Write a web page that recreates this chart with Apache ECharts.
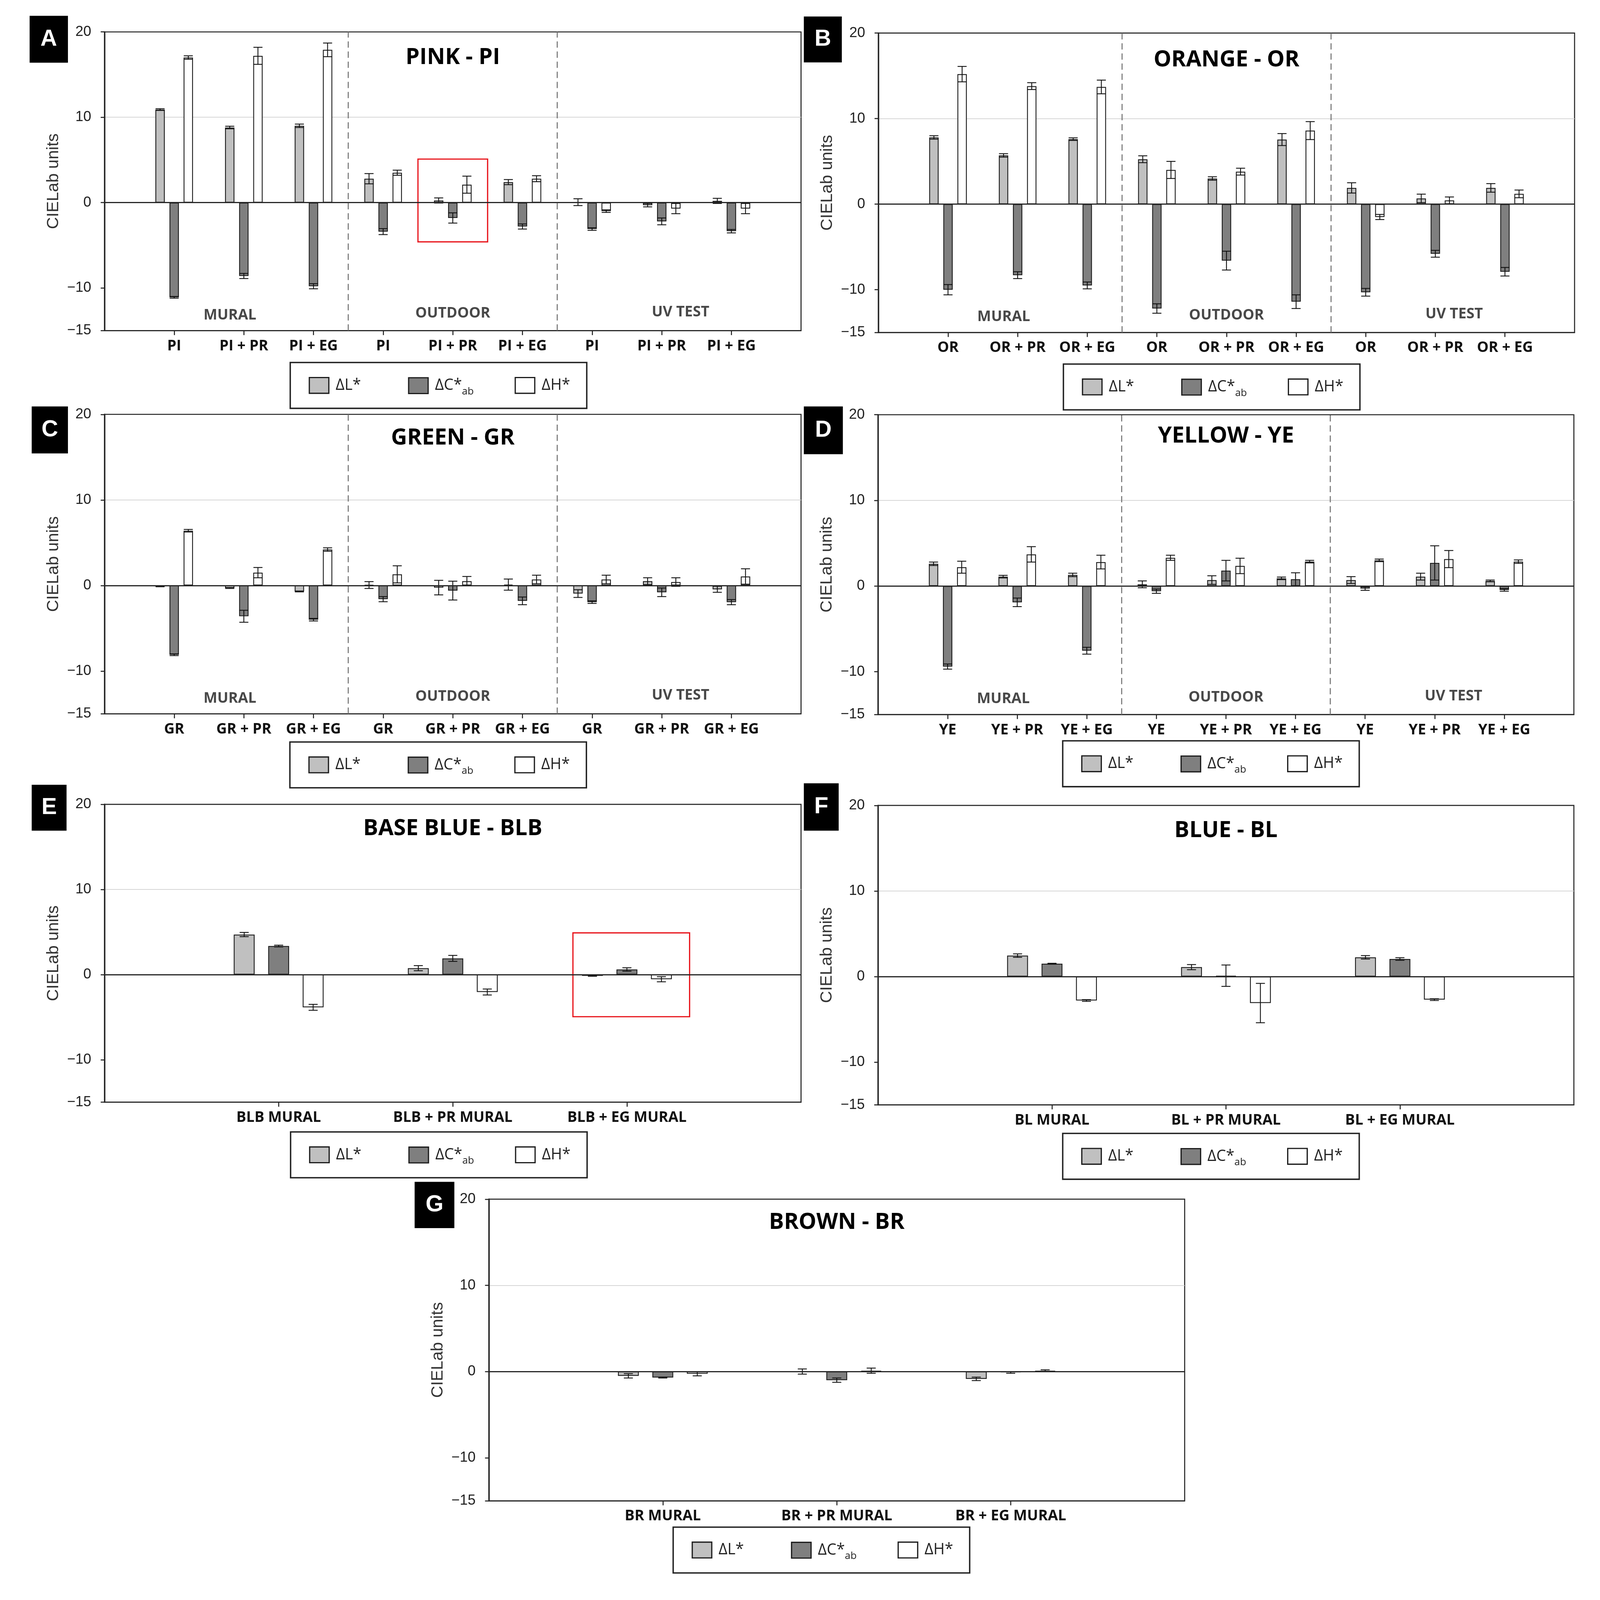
<!DOCTYPE html>
<html>
<head>
<meta charset="utf-8">
<script src="https://cdn.jsdelivr.net/npm/echarts@6.0.0/dist/echarts.min.js"></script>
<style>html,body{margin:0;padding:0;background:#fff;overflow:hidden}#c{width:100vw;height:100vh}</style>
</head>
<body>
<div id="c"></div>
<script>
// ---------------- data ----------------
const seriesNames = ['ΔL*', 'ΔC*ab', 'ΔH*'];
const groupNames = ['MURAL', 'OUTDOOR', 'UV TEST'];
const dividerPos = [3.5, 6.5];
const yLabelValues = [20, 10, 0, -10, -15];

// A - PINK
const catsPI = ['PI', 'PI + PR', 'PI + EG', 'PI', 'PI + PR', 'PI + EG', 'PI', 'PI + PR', 'PI + EG'];
const dL_PI = [10.9, 8.8, 9.0, 2.8, 0.25, 2.4, 0.05, -0.3, 0.2];
const eL_PI = [0.1, 0.15, 0.2, 0.6, 0.3, 0.3, 0.4, 0.2, 0.3];
const dC_PI = [-11.1, -8.6, -9.8, -3.4, -1.8, -2.8, -3.1, -2.2, -3.35];
const eC_PI = [0.1, 0.3, 0.3, 0.35, 0.6, 0.3, 0.15, 0.4, 0.2];
const dH_PI = [17.0, 17.2, 17.9, 3.5, 2.1, 2.8, -1.0, -0.7, -0.7];
const eH_PI = [0.2, 1.0, 0.8, 0.3, 1.0, 0.35, 0.15, 0.6, 0.6];

// B - ORANGE
const catsOR = ['OR', 'OR + PR', 'OR + EG', 'OR', 'OR + PR', 'OR + EG', 'OR', 'OR + PR', 'OR + EG'];
const dL_OR = [7.8, 5.7, 7.6, 5.25, 3.0, 7.55, 1.9, 0.67, 1.9];
const eL_OR = [0.2, 0.2, 0.15, 0.4, 0.2, 0.7, 0.6, 0.5, 0.5];
const dC_OR = [-10.0, -8.3, -9.5, -12.2, -6.6, -11.4, -10.3, -5.8, -7.9];
const eC_OR = [0.6, 0.4, 0.4, 0.55, 1.1, 0.8, 0.45, 0.4, 0.5];
const dH_OR = [15.2, 13.8, 13.7, 4.0, 3.8, 8.6, -1.5, 0.44, 1.2];
const eH_OR = [0.9, 0.4, 0.8, 1.0, 0.4, 1.05, 0.3, 0.4, 0.45];

// C - GREEN
const catsGR = ['GR', 'GR + PR', 'GR + EG', 'GR', 'GR + PR', 'GR + EG', 'GR', 'GR + PR', 'GR + EG'];
const dL_GR = [-0.1, -0.3, -0.7, 0.05, -0.25, 0.1, -0.95, 0.5, -0.45];
const eL_GR = [0.05, 0.05, 0.05, 0.4, 0.85, 0.65, 0.45, 0.4, 0.35];
const dC_GR = [-8.1, -3.6, -4.0, -1.6, -0.6, -1.8, -1.95, -0.8, -1.95];
const eC_GR = [0.1, 0.7, 0.15, 0.3, 1.1, 0.45, 0.15, 0.5, 0.3];
const dH_GR = [6.4, 1.5, 4.2, 1.3, 0.5, 0.7, 0.7, 0.4, 1.05];
const eH_GR = [0.15, 0.6, 0.2, 1.0, 0.55, 0.5, 0.5, 0.5, 0.9];

// D - YELLOW
const catsYE = ['YE', 'YE + PR', 'YE + EG', 'YE', 'YE + PR', 'YE + EG', 'YE', 'YE + PR', 'YE + EG'];
const dL_YE = [2.6, 1.1, 1.3, 0.2, 0.7, 0.9, 0.7, 1.1, 0.6];
const eL_YE = [0.2, 0.15, 0.2, 0.4, 0.5, 0.15, 0.4, 0.4, 0.1];
const dC_YE = [-9.4, -1.9, -7.55, -0.6, 1.8, 0.8, -0.3, 2.7, -0.45];
const eC_YE = [0.3, 0.5, 0.4, 0.25, 1.2, 0.75, 0.2, 2.0, 0.15];
const dH_YE = [2.2, 3.7, 2.8, 3.3, 2.35, 2.85, 3.0, 3.15, 2.85];
const eH_YE = [0.7, 0.9, 0.8, 0.3, 0.9, 0.15, 0.15, 1.0, 0.2];

// E - BASE BLUE
const catsBLB = ['BLB MURAL', 'BLB + PR MURAL', 'BLB + EG MURAL'];
const dL_BLB = [4.7, 0.75, -0.15];
const eL_BLB = [0.25, 0.3, 0.05];
const dC_BLB = [3.35, 1.9, 0.6];
const eC_BLB = [0.1, 0.35, 0.2];
const dH_BLB = [-3.85, -2.05, -0.55];
const eH_BLB = [0.35, 0.35, 0.3];

// F - BLUE
const catsBL = ['BL MURAL', 'BL + PR MURAL', 'BL + EG MURAL'];
const dL_BL = [2.45, 1.1, 2.25];
const eL_BL = [0.2, 0.3, 0.2];
const dC_BL = [1.5, 0.1, 2.05];
const eC_BL = [0.05, 1.25, 0.15];
const dH_BL = [-2.8, -3.1, -2.7];
const eH_BL = [0.1, 2.3, 0.1];

// G - BROWN
const catsBR = ['BR MURAL', 'BR + PR MURAL', 'BR + EG MURAL'];
const dL_BR = [-0.5, 0.0, -0.85];
const eL_BR = [0.25, 0.3, 0.2];
const dC_BR = [-0.7, -1.0, -0.1];
const eC_BR = [0.05, 0.25, 0.1];
const dH_BR = [-0.25, 0.1, 0.1];
const eH_BR = [0.25, 0.3, 0.1];

// ---------------- layout (reference pixel frame 4592 x 4259) ----------------
const REF_W = 4592, REF_H = 4259;
const W = window.innerWidth || REF_W;
const H = window.innerHeight || REF_H;
const sx = W / REF_W, sy = H / REF_H, fs = Math.min(sx, sy);
const X = v => v * sx, Y = v => v * sy, F = v => v * fs;

const panels = [
  {key: 'A', title: 'PINK - PI', cats: catsPI, vals: [dL_PI, dC_PI, dH_PI], errs: [eL_PI, eC_PI, eH_PI],
   grid: [300, 85, 1999, 795], box: [85, 42, 110, 125], legend: [833, 965], titleY: 158, grouped: true,
   highlight: [[4.5, 5.1], [5.5, -4.6]]},
  {key: 'B', title: 'ORANGE - OR', cats: catsOR, vals: [dL_OR, dC_OR, dH_OR], errs: [eL_OR, eC_OR, eH_OR],
   grid: [2521, 88, 1998, 797], box: [2307, 44, 109, 122], legend: [3052, 969], titleY: 165, grouped: true},
  {key: 'C', title: 'GREEN - GR', cats: catsGR, vals: [dL_GR, dC_GR, dH_GR], errs: [eL_GR, eC_GR, eH_GR],
   grid: [300, 1103, 1999, 797], box: [91, 1082, 104, 125], legend: [832, 1975], titleY: 1171, grouped: true},
  {key: 'D', title: 'YELLOW - YE', cats: catsYE, vals: [dL_YE, dC_YE, dH_YE], errs: [eL_YE, eC_YE, eH_YE],
   grid: [2520, 1104, 1997, 798], box: [2307, 1082, 112, 127], legend: [3050, 1972], titleY: 1166, grouped: true},
  {key: 'E', title: 'BASE BLUE - BLB', cats: catsBLB, vals: [dL_BLB, dC_BLB, dH_BLB], errs: [eL_BLB, eC_BLB, eH_BLB],
   grid: [300, 2141, 1999, 793], box: [91, 2089, 100, 122], legend: [834, 3013], titleY: 2211, grouped: false,
   highlight: [[2.69, 4.9], [3.36, -4.95]]},
  {key: 'F', title: 'BLUE - BL', cats: catsBL, vals: [dL_BL, dC_BL, dH_BL], errs: [eL_BL, eC_BL, eH_BL],
   grid: [2520, 2144, 1997, 797], box: [2307, 2085, 100, 126], legend: [3050, 3017], titleY: 2216, grouped: false},
  {key: 'G', title: 'BROWN - BR', cats: catsBR, vals: [dL_BR, dC_BR, dH_BR], errs: [eL_BR, eC_BR, eH_BR],
   grid: [1403, 3192, 1997, 803], box: [1190, 3146, 114, 123], legend: [1932, 4065], titleY: 3259, grouped: false}
];

const fills = ['#c0c0c0', '#7f7f7f', '#ffffff'];
const edge = '#1c1c1c';
const legendOffsets = [53, 338, 644];
const groupX = [1.8, 5.0, 8.27];
const groupY = [-13.2, -13.0, -12.85];
const HUM = '"Open Sans", "DejaVu Sans", sans-serif';
const ARIAL = '"Liberation Sans", Arial, sans-serif';

function makeErr(pitchFrac) {
  return function (params, api) {
    const x = api.value(0), k = api.value(1), lo = api.value(2), hi = api.value(3);
    const unit = api.size([1, 0])[0];
    const cx = api.coord([x, 0])[0] + (k - 1) * unit * pitchFrac;
    const y1 = api.coord([x, lo])[1], y2 = api.coord([x, hi])[1];
    const cap = F(13);
    const st = {stroke: '#111', lineWidth: F(2.5)};
    return {type: 'group', children: [
      {type: 'line', shape: {x1: cx, y1: y1, x2: cx, y2: y2}, style: st},
      {type: 'line', shape: {x1: cx - cap, y1: y1, x2: cx + cap, y2: y1}, style: st},
      {type: 'line', shape: {x1: cx - cap, y1: y2, x2: cx + cap, y2: y2}, style: st}
    ]};
  };
}

const option = {
  animation: false,
  backgroundColor: '#ffffff',
  textStyle: {fontFamily: HUM},
  grid: [], xAxis: [], yAxis: [], series: [], legend: [], title: [], graphic: []
};

panels.forEach((p, i) => {
  const [gl, gt, gw, gh] = p.grid;
  const n = p.cats.length;
  const ticks = p.cats.map((c, k) => k + 1);
  const barW = p.grouped ? 0.135 : 0.12;
  const barG = p.grouped ? 0.5 : 0.65;

  option.grid.push({left: X(gl), top: Y(gt), width: X(gw), height: Y(gh), show: true,
    borderColor: '#262626', borderWidth: F(3), backgroundColor: '#ffffff'});

  option.xAxis.push({
    gridIndex: i, type: 'value', min: 0, max: n + 1, interval: 1,
    axisLine: {show: true, onZero: false, lineStyle: {color: '#262626', width: F(3)}},
    axisTick: {show: true, customValues: ticks, length: Y(12), lineStyle: {color: '#262626', width: F(3)}},
    axisLabel: {show: true, customValues: ticks, margin: Y(22),
      formatter: v => p.cats[Math.round(v) - 1] || '',
      fontFamily: HUM, fontWeight: 'bold', fontSize: F(42), color: '#111'},
    splitLine: {show: false}
  });

  option.yAxis.push({
    gridIndex: i, type: 'value', min: -15, max: 20, interval: 5,
    name: 'CIELab units', nameLocation: 'middle', nameGap: X(122), nameRotate: 90,
    nameTextStyle: {fontFamily: ARIAL, fontSize: F(48), color: '#333'},
    axisLine: {show: true, lineStyle: {color: '#262626', width: F(4)}},
    axisTick: {show: true, customValues: yLabelValues, length: X(11), lineStyle: {color: '#262626', width: F(3)}},
    axisLabel: {show: true, customValues: yLabelValues, margin: X(38),
      formatter: v => yLabelValues.indexOf(v) < 0 ? '' : (v < 0 ? '\u2212' + Math.abs(v) : String(v)),
      fontFamily: ARIAL, fontSize: F(41), color: '#222'},
    splitLine: {show: true, lineStyle: {width: F(2.5),
      color: ['rgba(0,0,0,0)', '#d6d6d6', 'rgba(0,0,0,0)', 'rgba(0,0,0,0)', 'rgba(0,0,0,0)', '#d6d6d6', 'rgba(0,0,0,0)', 'rgba(0,0,0,0)']}}
  });

  // bars
  p.vals.forEach((arr, si) => {
    const s = {
      name: seriesNames[si], type: 'bar', xAxisIndex: i, yAxisIndex: i,
      data: arr.map((v, j) => [j + 1, v]),
      barWidth: (barW * 100) + '%', barGap: (barG * 100) + '%',
      itemStyle: {color: fills[si], borderColor: edge, borderWidth: F(2.5)},
      emphasis: {disabled: true}, silent: true, z: 2
    };
    if (si === 0) {
      s.markLine = {silent: true, symbol: ['none', 'none'], label: {show: false},
        lineStyle: {color: '#262626', width: F(3.5), type: 'solid'}, emphasis: {disabled: true},
        data: [{yAxis: 0}]};
    }
    if (si === 2 && p.highlight) {
      s.markArea = {silent: true, itemStyle: {color: 'rgba(0,0,0,0)', borderColor: '#e8141b', borderWidth: F(3.5)},
        emphasis: {disabled: true},
        data: [[{xAxis: p.highlight[0][0], yAxis: p.highlight[0][1]}, {xAxis: p.highlight[1][0], yAxis: p.highlight[1][1]}]]};
    }
    option.series.push(s);
  });

  // error bars
  const errData = [];
  p.vals.forEach((arr, si) => {
    arr.forEach((v, j) => {
      const e = p.errs[si][j];
      errData.push([j + 1, si, v - e, v + e]);
    });
  });
  option.series.push({
    type: 'custom', xAxisIndex: i, yAxisIndex: i, silent: true, z: 4,
    renderItem: makeErr(barW * (1 + barG)),
    encode: {x: 0, y: [2, 3]},
    data: errData
  });

  // group labels + dividers
  if (p.grouped) {
    option.series.push({
      type: 'scatter', xAxisIndex: i, yAxisIndex: i, silent: true, z: 3,
      symbolSize: 1, itemStyle: {color: 'rgba(0,0,0,0)'},
      data: groupNames.map((g, k) => ({name: g, value: [groupX[k], groupY[k]]})),
      label: {show: true, position: 'inside', formatter: '{b}',
        fontFamily: HUM, fontSize: F(42), fontWeight: 'bold', color: '#1a1a1a'},
      markLine: {silent: true, symbol: ['none', 'none'], label: {show: false}, emphasis: {disabled: true},
        lineStyle: {color: '#777777', width: F(3), type: [F(18), F(11)]},
        data: dividerPos.map(x => ({xAxis: x}))}
    });
  }

  // title
  option.title.push({text: p.title, left: X(gl + gw / 2), top: Y(p.titleY) - F(37), textAlign: 'center', padding: 0,
    textStyle: {fontFamily: HUM, fontWeight: 'bold', fontSize: F(64), color: '#000'}});

  // legends (one per item)
  const [lx, ly] = p.legend;
  seriesNames.forEach((nm, si) => {
    option.legend.push({
      left: X(lx + legendOffsets[si]), top: Y(ly + 61) - F(31), padding: 0, orient: 'horizontal',
      itemWidth: X(56), itemHeight: Y(42), selectedMode: false,
      data: [{name: nm, icon: 'rect'}],
      itemStyle: {borderColor: edge, borderWidth: F(3.5)},
      formatter: name => name === 'ΔC*ab' ? '{m|ΔC*}{s|ab}' : '{m|' + name + '}',
      textStyle: {fontFamily: HUM, fontSize: F(44), color: '#222', lineHeight: F(62), padding: [0, 0, 0, X(14)],
        rich: {
          m: {fontFamily: HUM, fontSize: F(44), color: '#222', lineHeight: F(62)},
          s: {fontFamily: HUM, fontSize: F(29), color: '#222', lineHeight: F(28), padding: [F(34), 0, 0, 0]}
        }}
    });
  });

  // decorations: panel letter and legend frame
  const [bx, by, bw, bh] = p.box;
  option.graphic.push({type: 'rect', silent: true, z: 10, shape: {x: X(bx), y: Y(by), width: X(bw), height: Y(bh)}, style: {fill: '#000'}});
  option.graphic.push({type: 'text', silent: true, z: 11, x: X(bx + bw / 2), y: Y(by + bh / 2),
    style: {text: p.key, fill: '#fff', fontFamily: ARIAL, fontWeight: 'bold', fontSize: F(66), align: 'center', verticalAlign: 'middle'}});
  option.graphic.push({type: 'rect', silent: true, z: 10, shape: {x: X(lx), y: Y(ly), width: X(851), height: Y(122)},
    style: {fill: 'none', stroke: '#222', lineWidth: F(4)}});
});

const el = document.getElementById('c');
el.style.width = W + 'px';
el.style.height = H + 'px';
const chart = echarts.init(el, null, {renderer: 'canvas', width: W, height: H});
chart.setOption(option);
</script>
</body>
</html>
